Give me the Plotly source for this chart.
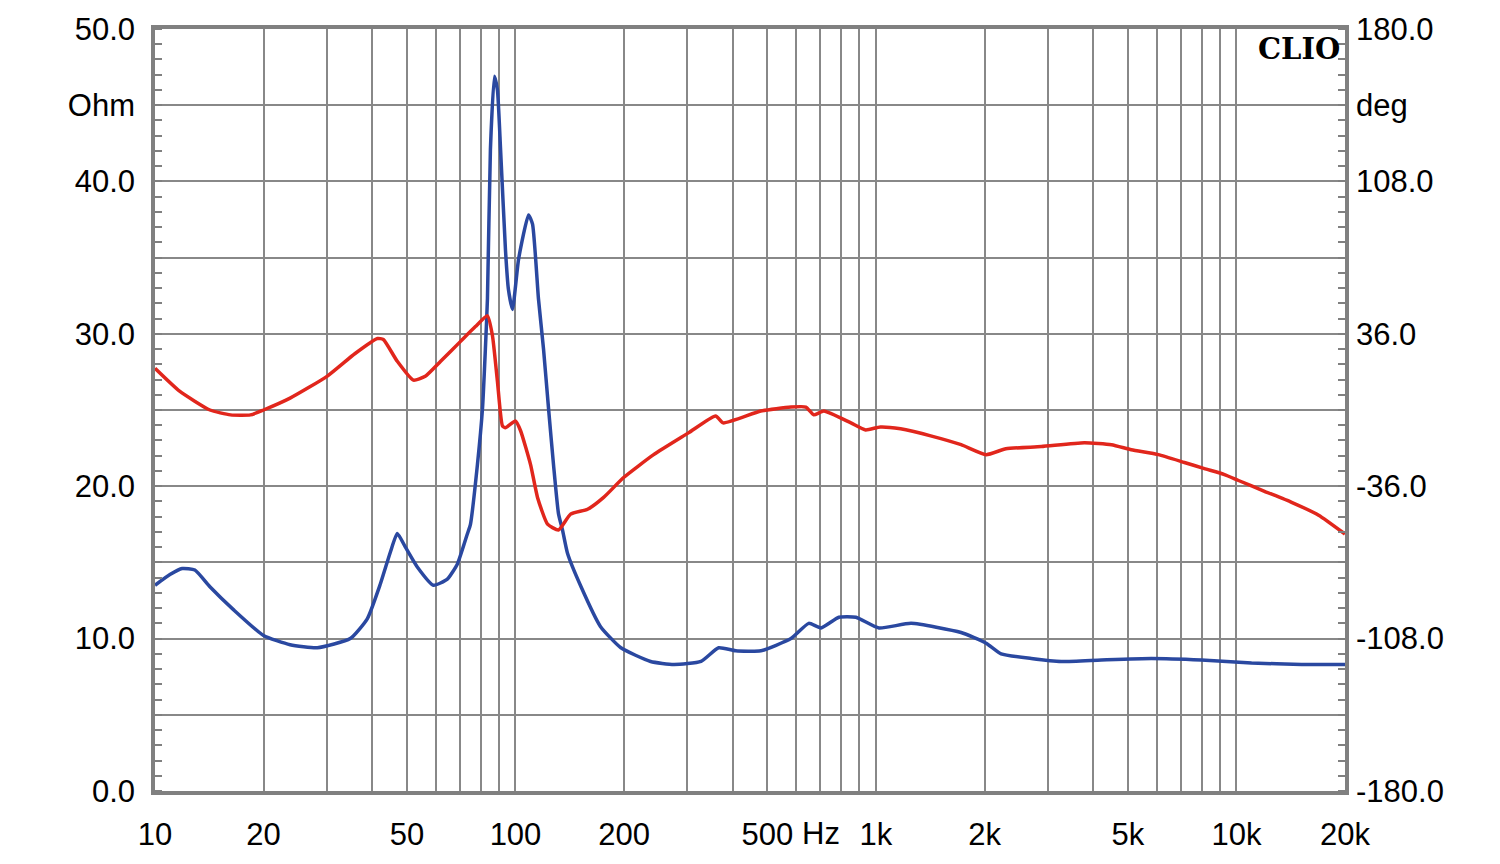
import plotly.graph_objects as go

# Impedance magnitude (Ohm) - blue
imp_freq = [10, 11.0, 11.9, 12.9, 14.2, 16.5, 20.0, 23.7, 28.2, 34.8, 38.8, 42.2, 45.0, 47.0, 49.5,
            53.4, 59.2, 64.7, 69.0, 73.6, 75.0, 78.4, 81.0, 82.5, 83.6, 85.2, 87.4, 89.1, 90.9, 93.8,
            95.6, 98.1, 102, 108.7, 111.5, 115.8, 119.6, 123.5, 127.5, 131.6, 135.1, 139.4, 152, 172,
            196, 237, 275, 327, 366, 408, 479, 581, 651, 704, 789, 880, 1019, 1251, 1722, 2021, 2224,
            2696, 3266, 4217, 5807, 7996, 11010, 15160, 20000]
imp_ohm = [13.5, 14.2, 14.6, 14.5, 13.4, 11.9, 10.2, 9.6, 9.4, 10.0, 11.3, 13.6, 15.7, 16.9, 16.0,
           14.7, 13.5, 13.9, 14.9, 16.9, 17.5, 21.4, 25.1, 29.0, 32.3, 42.1, 46.9, 46.0, 42.1, 35.5,
           32.9, 31.6, 34.9, 37.8, 37.2, 32.3, 29.0, 25.1, 21.4, 18.2, 17.1, 15.6, 13.4, 10.8,
           9.4, 8.5, 8.3, 8.5, 9.4, 9.2, 9.2, 10.0, 11.0, 10.7, 11.4, 11.4, 10.7, 11.0, 10.4, 9.7, 9.0,
           8.7, 8.5, 8.6, 8.7, 8.6, 8.4, 8.3, 8.3]

# Impedance phase (deg) - red
ph_freq = [10, 11.7, 14.2, 16.2, 18.4, 20.0, 23.7, 30.0, 35.9, 41.4, 43.0, 47.0, 52.1, 56.2, 62.0,
           70.3, 77.4, 83.6, 86.3, 89.1, 92.0, 93.8, 100, 103.3, 110.1, 115.1, 122.7, 131.6, 142.2,
           158.5, 175.6, 199.5, 241.7, 302, 359, 377, 479, 581, 639, 672, 717, 852, 936, 1028, 1170,
           1418, 1722, 2021, 2293, 2874, 3783, 4500, 5109, 6072, 7171, 8149, 9261, 10130, 11960,
           14220, 16900, 20000]
ph_deg = [19.7, 8.9, 0.0, -2.3, -2.3, 0.0, 5.6, 15.9, 26.7, 33.8, 33.3, 23.0, 14.1, 15.9, 23.0,
          32.3, 39.4, 44.5, 35.2, 13.6, -7.5, -8.4, -5.2, -9.8, -25.8, -41.3, -53.9, -56.7, -49.2,
          -46.9, -41.3, -31.9, -21.1, -10.8, -2.8, -6.1, -0.5, 1.4, 1.4, -2.3, -0.5, -6.1, -9.4, -8.0,
          -8.9, -12.2, -16.4, -21.1, -18.3, -17.3, -15.5, -16.4, -18.8, -21.1, -24.8, -27.7, -30.5,
          -33.3, -38.4, -43.6, -49.7, -58.6]

# Axis ticks
x_grid = [m * 10 ** e for e in range(1, 5) for m in range(1, 10)] + [20000]
x_label_map = {10: "10", 20: "20", 50: "50", 100: "100", 200: "200", 500: "500",
               1000: "1k", 2000: "2k", 5000: "5k", 10000: "10k", 20000: "20k"}
x_text = [x_label_map.get(v, "") for v in x_grid]

y_vals = [v * 5 for v in range(11)]
y_text = [("%.1f" % v) if v % 10 == 0 else ("Ohm" if v == 45 else "") for v in y_vals]

y2_vals = [-180 + 36 * i for i in range(11)]
y2_label_map = {180: "180.0", 144: "deg", 108: "108.0", 36: "36.0", -36: "-36.0",
                -108: "-108.0", -180: "-180.0"}
y2_text = [y2_label_map.get(v, "") for v in y2_vals]

BLUE = "#2a48a0"
RED = "#e1261c"
GRID = "#888888"
FRAME = "#808080"
FONT = "Liberation Sans, Arial, sans-serif"
FS = 31

fig = go.Figure()
fig.add_trace(go.Scatter(x=ph_freq, y=ph_deg, yaxis="y2", mode="lines",
                         line=dict(color=RED, width=3.5, shape="spline", smoothing=0.5),
                         showlegend=False, hoverinfo="skip"))
fig.add_trace(go.Scatter(x=imp_freq, y=imp_ohm, yaxis="y", mode="lines",
                         line=dict(color=BLUE, width=3.5, shape="spline", smoothing=0.5),
                         showlegend=False, hoverinfo="skip"))

fig.update_layout(
    width=1500, height=864,
    margin=dict(l=155, r=155, t=28, b=68),
    paper_bgcolor="white", plot_bgcolor="white",
    font=dict(family=FONT, size=FS, color="black"),
    xaxis=dict(type="log", range=[1, 4.30103], tickmode="array", tickvals=x_grid, ticktext=x_text,
               showgrid=True, gridcolor=GRID, gridwidth=1.5, ticks="", showline=True, mirror=True,
               linecolor=FRAME, linewidth=3.5, zeroline=False, ticklabelstandoff=13,
               tickfont=dict(family=FONT, size=FS, color="black")),
    yaxis=dict(range=[0, 50], tickmode="array", tickvals=y_vals, ticktext=y_text,
               showgrid=True, gridcolor=GRID, gridwidth=1.5, ticks="", showline=True, mirror=True,
               linecolor=FRAME, linewidth=3.5, zeroline=False, ticklabelstandoff=10,
               minor=dict(dtick=1, ticks="inside", ticklen=7, tickcolor=FRAME, tickwidth=1.5,
                          showgrid=False),
               tickfont=dict(family=FONT, size=FS, color="black")),
    yaxis2=dict(range=[-180, 180], overlaying="y", side="right", tickmode="array",
                tickvals=y2_vals, ticktext=y2_text, showgrid=False, ticks="", showline=False,
                zeroline=False, ticklabelstandoff=10,
                minor=dict(tickmode="array",
                           tickvals=[-180 + 7.2 * i for i in range(51)],
                           ticks="inside", ticklen=7, tickcolor=FRAME, tickwidth=1.5, showgrid=False),
                tickfont=dict(family=FONT, size=FS, color="black")),
    annotations=[
        dict(text="Hz", xref="x", yref="paper", x=2.79, y=0, xanchor="left", yanchor="top",
             yshift=-23, showarrow=False, font=dict(family=FONT, size=FS, color="black")),
        dict(text="<b>CLIO</b>", xref="paper", yref="paper", x=1, y=1, xanchor="right",
             yanchor="top", xshift=-3, yshift=-1, showarrow=False,
             font=dict(family="DejaVu Serif, serif", size=29, color="black")),
    ],
)

fig.write_html("out.html")
